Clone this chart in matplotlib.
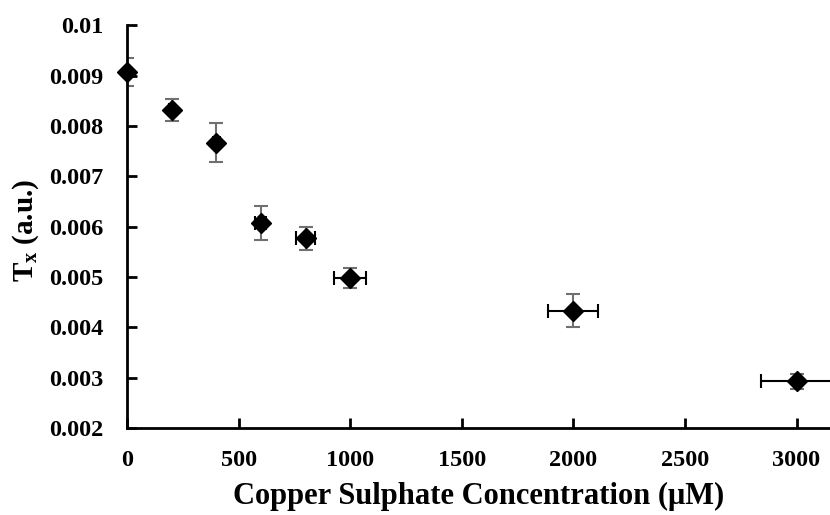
import matplotlib

matplotlib.use("Agg")

import matplotlib.pyplot as plt

# Data
conc = [0, 200, 400, 600, 800, 1000, 2000, 3000]
tx = [0.00907, 0.00831, 0.00767, 0.00607, 0.00577, 0.00498, 0.00433, 0.00293]
tx_err = [0.00027, 0.00022, 0.00039, 0.00033, 0.00023, 0.00019, 0.00033, 0.00015]
conc_err = [8, 10, 15, 25, 43, 73, 112, 157]

x_ticks = [0, 500, 1000, 1500, 2000, 2500, 3000]
y_ticks = [0.002, 0.003, 0.004, 0.005, 0.006, 0.007, 0.008, 0.009, 0.01]
y_tick_labels = ["0.002", "0.003", "0.004", "0.005", "0.006", "0.007", "0.008", "0.009", "0.01"]

plt.rcParams.update(
    {
        "font.family": "Liberation Serif",
        "font.weight": "bold",
        "mathtext.fontset": "custom",
        "mathtext.rm": "Liberation Serif:bold",
        "mathtext.it": "Liberation Serif:bold",
        "mathtext.bf": "Liberation Serif:bold",
    }
)

fig = plt.figure(figsize=(8.3, 5.15), dpi=100)
ax = fig.add_axes([0.153, 0.169, 0.847, 0.782])

# y error bars (grey)
ax.errorbar(conc, tx, yerr=tx_err, fmt="none", ecolor="#707070", elinewidth=1.5,
            capsize=5, capthick=1.5, zorder=2)
# x error bars (black)
ax.errorbar(conc, tx, xerr=conc_err, fmt="none", ecolor="black", elinewidth=1.5,
            capsize=5, capthick=1.5, zorder=2)
ax.plot(conc, tx, linestyle="none", marker="D", markersize=10, color="black", zorder=3,
        clip_on=False)

ax.set_xlim(0, 3150)
ax.set_ylim(0.002, 0.01)
ax.set_xticks(x_ticks)
ax.set_yticks(y_ticks)
ax.set_yticklabels(y_tick_labels)
ax.tick_params(direction="in", length=7, width=2, labelsize=17.5)
ax.tick_params(axis="y", pad=17)
ax.tick_params(axis="x", pad=16)

for side in ["top", "right"]:
    ax.spines[side].set_visible(False)
for side in ["left", "bottom"]:
    ax.spines[side].set_linewidth(2)

ax.set_xlabel("Copper Sulphate Concentration (μM)", fontsize=22, fontweight="bold", labelpad=8)
ax.set_ylabel("$T_x$ (a.u.)", fontsize=21, fontweight="bold")
ax.yaxis.set_label_coords(-0.123, 0.49)

fig.savefig("out.png", dpi=100)
